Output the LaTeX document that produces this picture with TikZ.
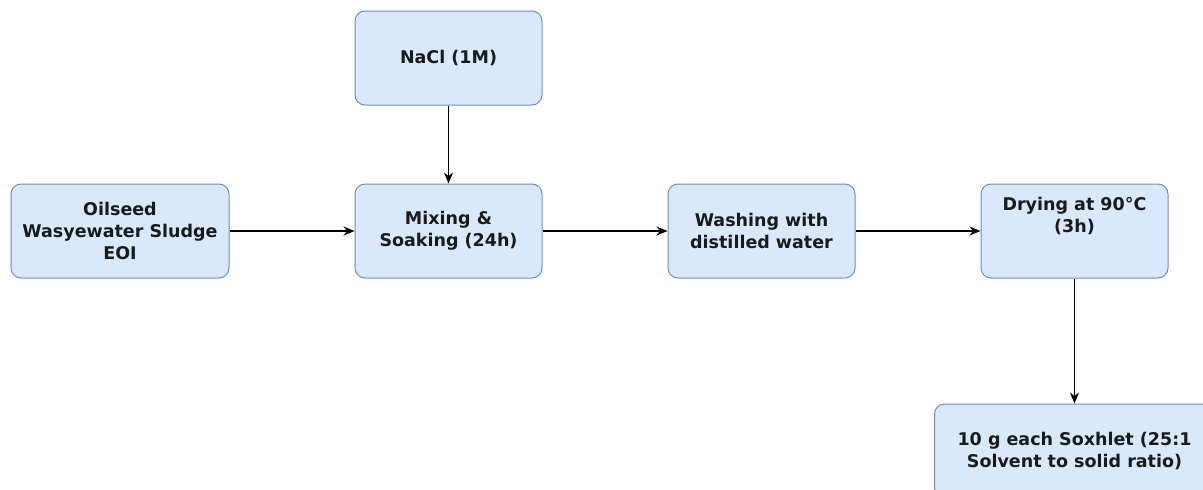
\documentclass[tikz,border=0pt]{standalone}
\usepackage{fontspec}
\setmainfont{DejaVu Sans}
\usetikzlibrary{positioning,arrows.meta}
\definecolor{boxfill}{HTML}{DAE8FC}
\definecolor{boxdraw}{HTML}{6C8EBF}
\definecolor{inktext}{HTML}{1A1A1A}

\begin{document}
\begin{tikzpicture}[
  x=1pt, y=-1pt,
  font=\bfseries\fontsize{17.5}{22}\selectfont,
  stage/.style={draw=boxdraw, fill=boxfill, rounded corners=10pt, align=center,
                line width=1pt, minimum width=187pt, minimum height=94pt,
                inner sep=2pt, text=inktext},
  flow/.style={-{Stealth[length=11pt,width=9pt]}, line width=1.2pt, black},
]
  \useasboundingbox (0,0) rectangle (1203,490);

  \node[stage, minimum width=218pt] (oil) at (120,231) {Oilseed\\Wasyewater Sludge\\EOI};
  \node[stage, right=125pt of oil] (mix) {Mixing \&\\Soaking (24h)};
  \node[stage, above=78pt of mix] (nacl) {NaCl (1M)};
  \node[stage, right=125pt of mix] (wash) {Washing with\\distilled water};
  \node[stage, right=125pt of wash] (dry) {Drying at 90°C\\(3h)\\[10pt]};
  \node[stage, minimum width=280pt, below=125pt of dry] (soxh)
    {10 g each Soxhlet (25:1\\Solvent to solid ratio)};

  \draw[flow] (oil) -- (mix);
  \draw[flow] (nacl) -- (mix);
  \draw[flow] (mix) -- (wash);
  \draw[flow] (wash) -- (dry);
  \draw[flow] (dry) -- (soxh);
\end{tikzpicture}
\end{document}
